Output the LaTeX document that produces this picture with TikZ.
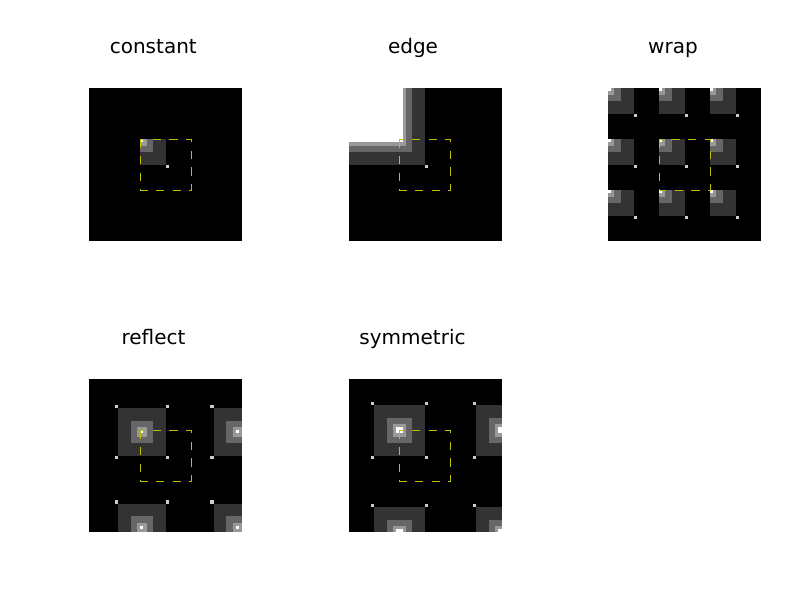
\documentclass[tikz,border=0pt]{standalone}
\usepackage{fontspec}
\setmainfont{DejaVu Sans}
\definecolor{PadGrayA}{RGB}{51,51,51}
\definecolor{PadGrayB}{RGB}{102,102,102}
\definecolor{PadGrayC}{RGB}{153,153,153}
\definecolor{PadGrayD}{RGB}{204,204,204}
\definecolor{PadYellow}{RGB}{191,191,0}

% fill every product of the row/column intervals a/b with one grey
\newcommand{\padfill}[2]{%
  \foreach \ra/\rb in {#2} {
    \foreach \ca/\cb in {#2} {
      \fill[#1] (\ca,\ra) rectangle (\cb,\rb);
    }
  }%
}

\begin{document}
\begin{tikzpicture}[x=1bp,y=1bp,line cap=butt,line join=miter]
  \path[use as bounding box] (0,0) rectangle (800,600);
  \fill[white] (0,0) rectangle (800,600);

  \tikzset{
    paneltitle/.style={anchor=base,inner sep=0pt,text=black,
      font=\fontsize{20bp}{20bp}\selectfont},
    padframe/.style={draw=PadYellow,line width=0.7bp,
      dash pattern=on 8.33bp off 8.33bp},
  }

  % ==================== CONSTANT ====================
  \node[paneltitle] (title-constant) at (153.3,546.5) {constant};
  \begin{scope}[shift={(89.3,511.7)},x=3.1875bp,y=-3.1875bp]
    \fill[black] (0,0) rectangle (48,48);
    \padfill{PadGrayA}{16/24}
    \padfill{PadGrayB}{16/20}
    \padfill{PadGrayC}{16/18}
    \padfill{white}{16/17}
    \padfill{PadGrayD}{24/25}
    \draw[padframe] (16,16) -- (16,32) -- (32,32) -- (32,16) -- cycle;
  \end{scope}

  % ==================== EDGE ====================
  \node[paneltitle] (title-edge) at (413,546.5) {edge};
  \begin{scope}[shift={(348.5,511.7)},x=3.1875bp,y=-3.1875bp]
    \fill[black] (0,0) rectangle (48,48);
    \padfill{PadGrayA}{0/24}
    \padfill{PadGrayB}{0/20}
    \padfill{PadGrayC}{0/18}
    \padfill{white}{0/17}
    \padfill{PadGrayD}{24/25}
    \draw[padframe] (16,16) -- (16,32) -- (32,32) -- (32,16) -- cycle;
  \end{scope}

  % ==================== WRAP ====================
  \node[paneltitle] (title-wrap) at (673,546.5) {wrap};
  \begin{scope}[shift={(608,511.7)},x=3.1875bp,y=-3.1875bp]
    \fill[black] (0,0) rectangle (48,48);
    \padfill{PadGrayA}{0/8,16/24,32/40}
    \padfill{PadGrayB}{0/4,16/20,32/36}
    \padfill{PadGrayC}{0/2,16/18,32/34}
    \padfill{white}{0/1,16/17,32/33}
    \padfill{PadGrayD}{8/9,24/25,40/41}
    \draw[padframe] (16,16) -- (16,32) -- (32,32) -- (32,16) -- cycle;
  \end{scope}

  % ==================== REFLECT ====================
  \node[paneltitle] (title-reflect) at (153.5,255.5) {reflect};
  \begin{scope}[shift={(89.3,220.7)},x=3.1875bp,y=-3.1875bp]
    \fill[black] (0,0) rectangle (48,48);
    \padfill{PadGrayA}{9/24,39/48}
    \padfill{PadGrayB}{13/20,43/48}
    \padfill{PadGrayC}{15/18,45/48}
    \padfill{white}{16/17,46/47}
    \padfill{PadGrayD}{8/9,24/25,38/39}
    \draw[padframe] (16,16) -- (16,32) -- (32,32) -- (32,16) -- cycle;
  \end{scope}

  % ==================== SYMMETRIC ====================
  \node[paneltitle] (title-symmetric) at (412.5,255.5) {symmetric};
  \begin{scope}[shift={(348.5,220.7)},x=3.1875bp,y=-3.1875bp]
    \fill[black] (0,0) rectangle (48,48);
    \padfill{PadGrayA}{8/24,40/48}
    \padfill{PadGrayB}{12/20,44/48}
    \padfill{PadGrayC}{14/18,46/48}
    \padfill{white}{15/17,47/48}
    \padfill{PadGrayD}{7/8,24/25,39/40}
    \draw[padframe] (16,16) -- (16,32) -- (32,32) -- (32,16) -- cycle;
  \end{scope}

\end{tikzpicture}
\end{document}
